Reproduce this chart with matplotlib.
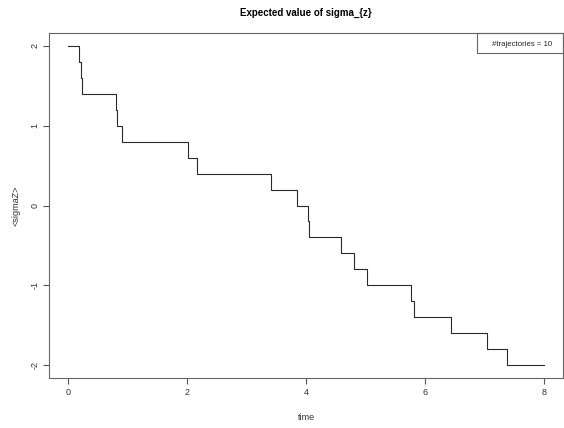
import matplotlib
matplotlib.use("Agg")
import matplotlib.pyplot as plt
from matplotlib.patches import Rectangle

# jump times of the mean trajectory (last entry = end of simulation)
tempos = [0.0, 0.19, 0.21, 0.235, 0.80, 0.83, 0.91, 2.02, 2.16, 3.41, 3.85,
          4.04, 4.05, 4.59, 4.81, 5.02, 5.77, 5.82, 6.43, 7.05, 7.38, 8.0]
sigma_z = [2.0, 1.8, 1.6, 1.4, 1.2, 1.0, 0.8, 0.6, 0.4, 0.2, 0.0,
           -0.2, -0.4, -0.6, -0.8, -1.0, -1.2, -1.4, -1.6, -1.8, -2.0, -2.0]
xticks = [0, 2, 4, 6, 8]
yticks = [-2, -1, 0, 1, 2]
n_traj = 10

plt.rcParams["font.family"] = ["Liberation Sans", "DejaVu Sans"]

fig = plt.figure(figsize=(5.64, 4.28), dpi=100)
ax = fig.add_axes([49 / 564, 50 / 428, 514 / 564, 345 / 428])

ax.step(tempos, sigma_z, where="post", color="#2a2a2a", lw=0.8)

ax.set_xlim(-0.32, 8.32)
ax.set_ylim(-2.16, 2.16)
ax.set_xticks(xticks)
ax.set_yticks(yticks)
ax.set_yticklabels([str(v) for v in yticks], rotation=90, va="center")
ax.tick_params(labelsize=6.5, length=4.5, width=0.8, color="#555555",
               labelcolor="#333333", pad=3)
ax.tick_params(axis="y", pad=2.5)
for s in ax.spines.values():
    s.set_color("#666666")
    s.set_linewidth(0.8)

ax.set_xlabel("time", fontsize=6.5, color="#333333", labelpad=11)
ax.set_ylabel("<sigmaZ>", fontsize=6.5, color="#333333", labelpad=7)
ax.set_title("Expected value of sigma_{z}", fontsize=7, fontweight="bold",
             pad=12)

# legend box (R style, text only)
leg = Rectangle((428 / 514, 1 - 20 / 345), 86 / 514, 20 / 345,
                transform=ax.transAxes, fill=False, edgecolor="#666666",
                lw=0.8, clip_on=False)
ax.add_patch(leg)
ax.text(503 / 514, 1 - 11 / 345, "#trajectories = %d" % n_traj,
        transform=ax.transAxes, ha="right", va="center", fontsize=5.6,
        color="#222222")

plt.savefig("out.png", dpi=100)
